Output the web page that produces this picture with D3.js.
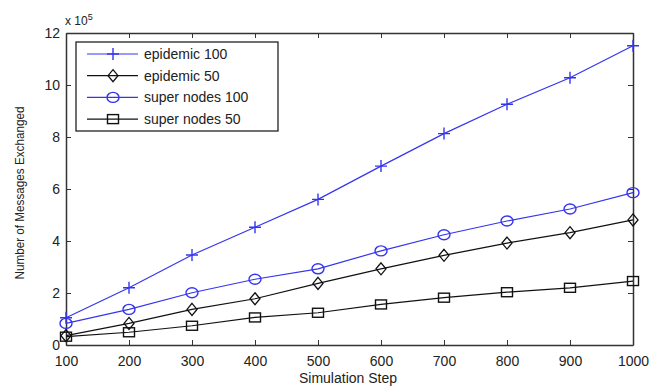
<!DOCTYPE html>
<html><head><meta charset="utf-8">
<script src="https://cdn.jsdelivr.net/npm/d3@7"></script>
<style>body{margin:0;background:#fff}svg{display:block}text{font-family:"Liberation Sans",Arial,sans-serif;fill:#222}</style>
</head><body><svg id="c" width="662" height="386"></svg>
<script>
const steps = [100,200,300,400,500,600,700,800,900,1000];
const epidemic100 = [1.05,2.2,3.46,4.53,5.6,6.88,8.13,9.26,10.28,11.51];
const epidemic50 = [0.36,0.83,1.37,1.78,2.37,2.93,3.45,3.92,4.32,4.81];
const superNodes100 = [0.83,1.37,2.01,2.53,2.93,3.62,4.24,4.77,5.23,5.86];
const superNodes50 = [0.32,0.49,0.74,1.06,1.24,1.56,1.82,2.03,2.2,2.46];
const xTicks = [100,200,300,400,500,600,700,800,900,1000];
const yTicks = [0,2,4,6,8,10,12];
const seriesNames = ["epidemic 100","epidemic 50","super nodes 100","super nodes 50"];

const blue = "#3535ee", black = "#111";
const series = [
  {name:seriesNames[0], vals:epidemic100, color:blue, marker:"plus"},
  {name:seriesNames[1], vals:epidemic50, color:black, marker:"diamond"},
  {name:seriesNames[2], vals:superNodes100, color:blue, marker:"circle"},
  {name:seriesNames[3], vals:superNodes50, color:black, marker:"square"}
];

const L=66,R=633,T=33,B=345;
const svg=d3.select("#c");
const x=d3.scaleLinear().domain([100,1000]).range([L,R]);
const y=d3.scaleLinear().domain([0,12]).range([B,T]);

const ax=svg.append("g").attr("transform",`translate(0,${B})`).call(d3.axisBottom(x).tickValues(xTicks).tickFormat(d3.format("d")).tickSizeInner(-5).tickSizeOuter(0).tickPadding(11));
const ay=svg.append("g").attr("transform",`translate(${L},0)`).call(d3.axisLeft(y).tickValues(yTicks).tickFormat(d3.format("d")).tickSizeInner(-5).tickSizeOuter(0).tickPadding(6));
const at=svg.append("g").attr("transform",`translate(0,${T})`).call(d3.axisTop(x).tickValues(xTicks).tickSizeInner(-5).tickSizeOuter(0).tickFormat(""));
const ar=svg.append("g").attr("transform",`translate(${R},0)`).call(d3.axisRight(y).tickValues(yTicks).tickSizeInner(-5).tickSizeOuter(0).tickFormat(""));
[ax,ay,at,ar].forEach(g=>{g.select(".domain").attr("stroke","#333").attr("stroke-width",1.5);g.selectAll(".tick line").attr("stroke","#333");g.selectAll("text").attr("font-size",14).attr("fill","#222").attr("font-family","Liberation Sans, Arial, sans-serif");});

const mt=svg.append("text").attr("x",65).attr("y",25).attr("font-size",12);
mt.append("tspan").text("x 10");
mt.append("tspan").attr("dy",-5).attr("font-size",9).text("5");

svg.append("text").attr("x",348).attr("y",383).attr("text-anchor","middle").attr("font-size",14).text("Simulation Step");
svg.append("text").attr("transform","translate(24,193) rotate(-90)").attr("text-anchor","middle").attr("font-size",12).attr("textLength",173).attr("lengthAdjust","spacingAndGlyphs").text("Number of Messages Exchanged");

function drawMarker(g,type,cx,cy,color){
  if(type==="plus"){
    g.append("path").attr("d",`M${cx-6},${cy}H${cx+6}M${cx},${cy-6}V${cy+6}`).attr("stroke",color).attr("stroke-width",1.4);
  } else if(type==="diamond"){
    g.append("path").attr("d",`M${cx},${cy-6}L${cx+5},${cy}L${cx},${cy+6}L${cx-5},${cy}Z`).attr("fill","none").attr("stroke",color).attr("stroke-width",1.3);
  } else if(type==="circle"){
    g.append("ellipse").attr("cx",cx).attr("cy",cy).attr("rx",6).attr("ry",5).attr("fill","none").attr("stroke",color).attr("stroke-width",1.4);
  } else {
    g.append("rect").attr("x",cx-5.5).attr("y",cy-4.5).attr("width",11).attr("height",9).attr("fill","none").attr("stroke",color).attr("stroke-width",1.4);
  }
}

const line=d3.line().x((d,i)=>x(steps[i])).y(d=>y(d));
series.forEach(s=>{
  const g=svg.append("g");
  g.append("path").attr("d",line(s.vals)).attr("fill","none").attr("stroke",s.color).attr("stroke-width",1.2);
  s.vals.forEach((v,i)=>drawMarker(g,s.marker,x(steps[i]),y(v),s.color));
});

const lg=svg.append("g");
lg.append("rect").attr("x",76).attr("y",42).attr("width",202).attr("height",89).attr("fill","#fff").attr("stroke","#222").attr("stroke-width",1.3);
series.forEach((s,i)=>{
  const cy=54+i*21.7;
  lg.append("line").attr("x1",87).attr("x2",138).attr("y1",cy).attr("y2",cy).attr("stroke",s.color).attr("stroke-width",1.2);
  drawMarker(lg,s.marker,113,cy,s.color);
  lg.append("text").attr("x",144).attr("y",cy+5).attr("font-size",14).text(s.name);
});
</script></body></html>
